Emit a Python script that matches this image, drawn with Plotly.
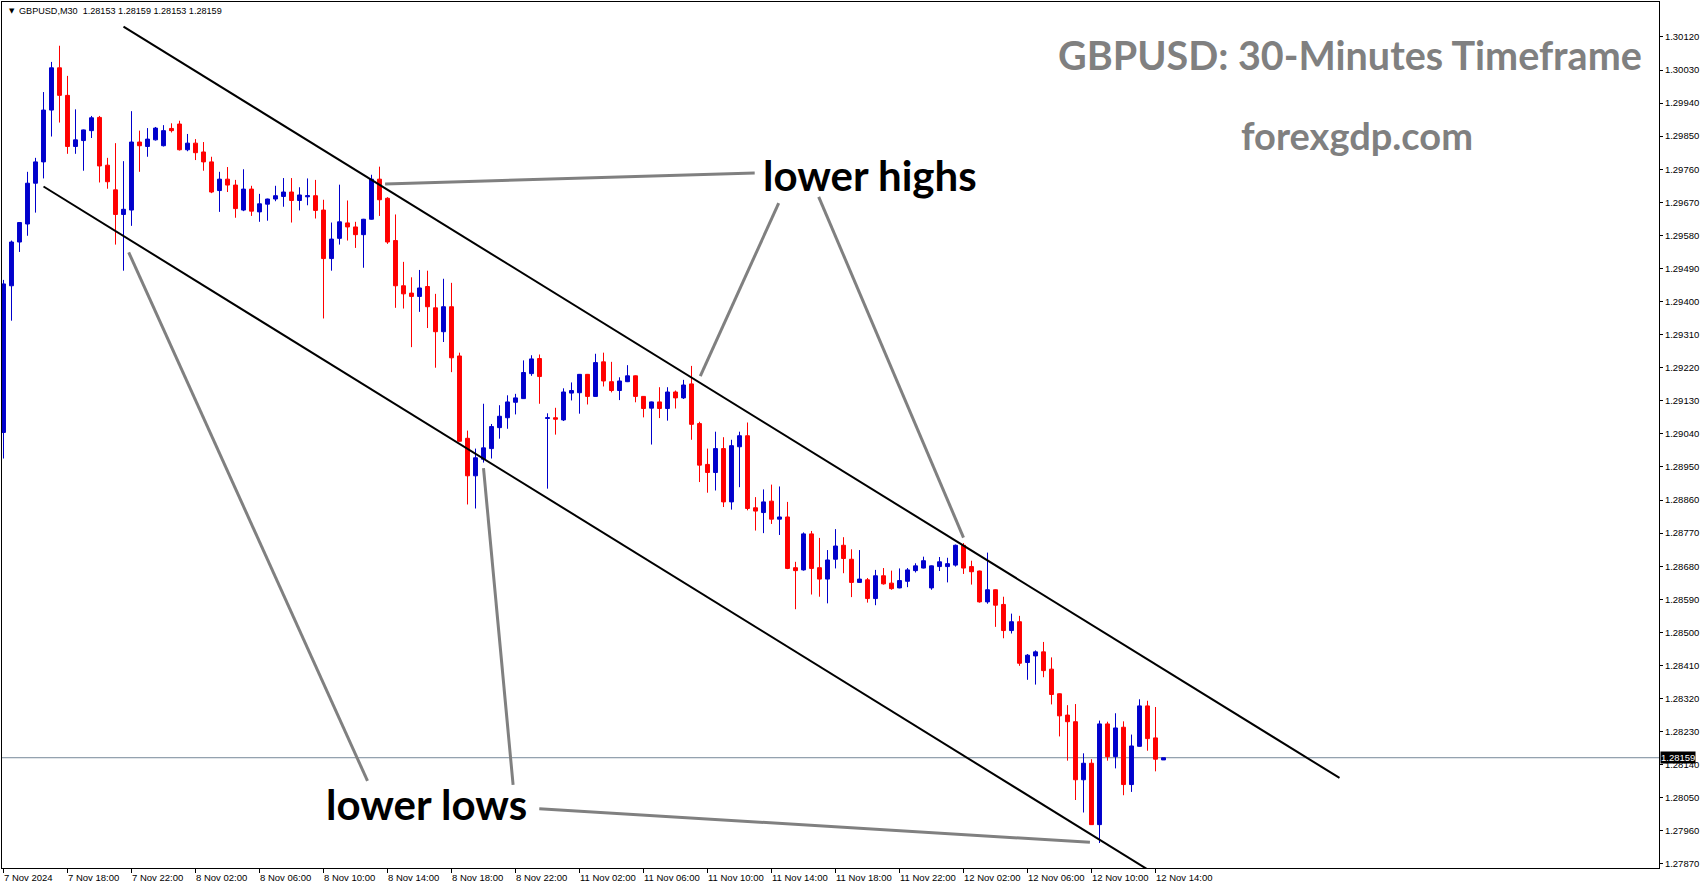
import pandas as pd
import plotly.graph_objects as go

# ---------------- data (GBPUSD M30, 7 Nov 2024 14:00 -> 12 Nov 2024 14:30) ----------------
opens = [1.29044, 1.29443, 1.29562, 1.29611, 1.29722, 1.29780, 1.29921, 1.30036, 1.29961, 1.29822,
         1.29838, 1.29865, 1.29901, 1.29771, 1.29704, 1.29637, 1.29649, 1.29834, 1.29822, 1.29840,
         1.29824, 1.29871, 1.29883, 1.29813, 1.29831, 1.29807, 1.29780, 1.29702, 1.29733, 1.29717,
         1.29649, 1.29706, 1.29644, 1.29665, 1.29679, 1.29686, 1.29698, 1.29675, 1.29685, 1.29688,
         1.29649, 1.29517, 1.29572, 1.29614, 1.29603, 1.29582, 1.29624, 1.29733, 1.29681, 1.29566,
         1.29443, 1.29423, 1.29414, 1.29441, 1.29383, 1.29318, 1.29386, 1.29252, 1.29028, 1.28926,
         1.28971, 1.29000, 1.29057, 1.29084, 1.29126, 1.29136, 1.29204, 1.29245, 1.29082, 1.29084,
         1.29078, 1.29151, 1.29152, 1.29202, 1.29142, 1.29236, 1.29182, 1.29158, 1.29182, 1.29198,
         1.29142, 1.29110, 1.29127, 1.29109, 1.29154, 1.29138, 1.29176, 1.29068, 1.28957, 1.28935,
         1.29000, 1.28855, 1.29005, 1.29035, 1.28839, 1.28826, 1.28857, 1.28808, 1.28814, 1.28676,
         1.28670, 1.28768, 1.28676, 1.28645, 1.28699, 1.28737, 1.28699, 1.28636, 1.28643, 1.28592,
         1.28654, 1.28634, 1.28621, 1.28639, 1.28668, 1.28675, 1.28621, 1.28679, 1.28679, 1.28683,
         1.28737, 1.28679, 1.28667, 1.28583, 1.28616, 1.28576, 1.28505, 1.28529, 1.28418, 1.28436,
         1.28447, 1.28400, 1.28333, 1.28275, 1.28257, 1.28099, 1.28144, 1.27977, 1.28251, 1.28162,
         1.28242, 1.28086, 1.28190, 1.28300, 1.28213, 1.28153]
highs = [1.29459, 1.29566, 1.29616, 1.29753, 1.29791, 1.29970, 1.30052, 1.30096, 1.30014, 1.29923,
         1.29868, 1.29905, 1.29905, 1.29791, 1.29831, 1.29782, 1.29918, 1.29865, 1.29872, 1.29875,
         1.29880, 1.29885, 1.29892, 1.29856, 1.29842, 1.29834, 1.29794, 1.29753, 1.29766, 1.29731,
         1.29760, 1.29715, 1.29693, 1.29680, 1.29715, 1.29736, 1.29736, 1.29711, 1.29735, 1.29731,
         1.29677, 1.29615, 1.29718, 1.29675, 1.29617, 1.29625, 1.29745, 1.29767, 1.29684, 1.29637,
         1.29508, 1.29466, 1.29486, 1.29484, 1.29421, 1.29462, 1.29451, 1.29261, 1.29049, 1.29000,
         1.29122, 1.29067, 1.29118, 1.29145, 1.29149, 1.29240, 1.29254, 1.29256, 1.29096, 1.29111,
         1.29164, 1.29180, 1.29203, 1.29203, 1.29258, 1.29261, 1.29236, 1.29194, 1.29227, 1.29199,
         1.29143, 1.29128, 1.29167, 1.29167, 1.29158, 1.29187, 1.29225, 1.29073, 1.29000, 1.29046,
         1.29031, 1.29024, 1.29046, 1.29071, 1.28868, 1.28889, 1.28902, 1.28897, 1.28855, 1.28692,
         1.28772, 1.28776, 1.28757, 1.28724, 1.28781, 1.28759, 1.28726, 1.28724, 1.28648, 1.28670,
         1.28675, 1.28668, 1.28674, 1.28675, 1.28688, 1.28706, 1.28682, 1.28705, 1.28703, 1.28739,
         1.28743, 1.28695, 1.28668, 1.28717, 1.28617, 1.28597, 1.28551, 1.28545, 1.28441, 1.28451,
         1.28474, 1.28432, 1.28334, 1.28302, 1.28305, 1.28171, 1.28155, 1.28260, 1.28257, 1.28280,
         1.28258, 1.28222, 1.28318, 1.28314, 1.28297, 1.28159]
lows = [1.28973, 1.29348, 1.29535, 1.29579, 1.29642, 1.29735, 1.29849, 1.29887, 1.29802, 1.29802,
        1.29756, 1.29845, 1.29724, 1.29707, 1.29555, 1.29484, 1.29606, 1.29753, 1.29794, 1.29838,
        1.29822, 1.29860, 1.29811, 1.29809, 1.29785, 1.29756, 1.29695, 1.29644, 1.29698, 1.29628,
        1.29646, 1.29633, 1.29617, 1.29620, 1.29673, 1.29658, 1.29615, 1.29648, 1.29662, 1.29626,
        1.29354, 1.29484, 1.29555, 1.29566, 1.29546, 1.29492, 1.29623, 1.29633, 1.29557, 1.29383,
        1.29381, 1.29276, 1.29372, 1.29328, 1.29220, 1.29290, 1.29208, 1.29019, 1.28848, 1.28837,
        1.28962, 1.28973, 1.29027, 1.29054, 1.29093, 1.29135, 1.29198, 1.29122, 1.28891, 1.29038,
        1.29075, 1.29131, 1.29095, 1.29120, 1.29141, 1.29169, 1.29153, 1.29132, 1.29181, 1.29126,
        1.29085, 1.29011, 1.29083, 1.29076, 1.29109, 1.29135, 1.29024, 1.28909, 1.28880, 1.28886,
        1.28841, 1.28834, 1.28895, 1.28832, 1.28777, 1.28770, 1.28795, 1.28765, 1.28672, 1.28563,
        1.28668, 1.28603, 1.28597, 1.28579, 1.28674, 1.28661, 1.28596, 1.28635, 1.28581, 1.28574,
        1.28630, 1.28616, 1.28620, 1.28623, 1.28663, 1.28674, 1.28616, 1.28667, 1.28636, 1.28679,
        1.28659, 1.28630, 1.28581, 1.28578, 1.28515, 1.28484, 1.28497, 1.28409, 1.28371, 1.28358,
        1.28378, 1.28304, 1.28217, 1.28151, 1.28044, 1.28010, 1.27976, 1.27927, 1.28151, 1.28130,
        1.28057, 1.28066, 1.28189, 1.28178, 1.28122, 1.28153]
closes = [1.29448, 1.29562, 1.29615, 1.29722, 1.29780, 1.29921, 1.30036, 1.29961, 1.29822, 1.29840,
          1.29867, 1.29900, 1.29769, 1.29726, 1.29637, 1.29651, 1.29834, 1.29824, 1.29842, 1.29872,
          1.29865, 1.29865, 1.29813, 1.29831, 1.29805, 1.29780, 1.29698, 1.29733, 1.29717, 1.29653,
          1.29706, 1.29646, 1.29666, 1.29679, 1.29688, 1.29698, 1.29675, 1.29690, 1.29688, 1.29648,
          1.29517, 1.29570, 1.29617, 1.29603, 1.29582, 1.29624, 1.29733, 1.29677, 1.29562, 1.29443,
          1.29421, 1.29414, 1.29437, 1.29386, 1.29318, 1.29386, 1.29247, 1.29020, 1.28926, 1.28975,
          1.29002, 1.29060, 1.29088, 1.29127, 1.29138, 1.29207, 1.29244, 1.29196, 1.29084, 1.29080,
          1.29154, 1.29158, 1.29202, 1.29142, 1.29234, 1.29184, 1.29158, 1.29184, 1.29198, 1.29142,
          1.29109, 1.29127, 1.29109, 1.29154, 1.29138, 1.29173, 1.29066, 1.28955, 1.28935, 1.29000,
          1.28855, 1.29008, 1.29035, 1.28837, 1.28830, 1.28855, 1.28808, 1.28814, 1.28674, 1.28668,
          1.28768, 1.28674, 1.28645, 1.28697, 1.28735, 1.28701, 1.28636, 1.28645, 1.28592, 1.28654,
          1.28632, 1.28619, 1.28641, 1.28670, 1.28681, 1.28695, 1.28681, 1.28692, 1.28687, 1.28737,
          1.28675, 1.28665, 1.28583, 1.28616, 1.28574, 1.28505, 1.28529, 1.28416, 1.28438, 1.28447,
          1.28396, 1.28331, 1.28273, 1.28257, 1.28099, 1.28144, 1.27977, 1.28251, 1.28162, 1.28240,
          1.28086, 1.28191, 1.28300, 1.28211, 1.28155, 1.28159]

# bar times (weekend gap between Fri 8 Nov 23:30 and Mon 11 Nov 00:00)
bar_times = list(pd.date_range("2024-11-07 14:00", "2024-11-08 23:30", freq="30min")) + \
            list(pd.date_range("2024-11-11 00:00", "2024-11-12 14:30", freq="30min"))
bar_labels = [t.strftime("%d %b %H:%M") for t in bar_times]
bar_index = list(range(len(bar_times)))

x_tick_bars = [0, 8, 16, 24, 32, 40, 48, 56, 64, 72, 80, 88, 96, 104, 112, 120, 128, 136, 144]
x_tick_text = ["7 Nov 2024", "7 Nov 18:00", "7 Nov 22:00", "8 Nov 02:00", "8 Nov 06:00",
               "8 Nov 10:00", "8 Nov 14:00", "8 Nov 18:00", "8 Nov 22:00", "11 Nov 02:00",
               "11 Nov 06:00", "11 Nov 10:00", "11 Nov 14:00", "11 Nov 18:00", "11 Nov 22:00",
               "12 Nov 02:00", "12 Nov 06:00", "12 Nov 10:00", "12 Nov 14:00"]
y_tick_vals = [1.27870, 1.27960, 1.28050, 1.28140, 1.28230, 1.28320, 1.28410, 1.28500, 1.28590,
               1.28680, 1.28770, 1.28860, 1.28950, 1.29040, 1.29130, 1.29220, 1.29310, 1.29400,
               1.29490, 1.29580, 1.29670, 1.29760, 1.29850, 1.29940, 1.30030, 1.30120]
last_price = 1.28159

# channel lines (bar index, price)
upper_channel = [(15, 1.30148), (167, 1.28104)]
lower_channel = [(5, 1.29713), (150, 1.27761)]
# pointer lines (bar index, price)
pointers = [
    [(47.7, 1.29720), (93.9, 1.29750)],
    [(96.9, 1.29668), (87.1, 1.29197)],
    [(101.9, 1.29685), (120.0, 1.28758)],
    [(45.5, 1.28096), (15.65, 1.29534)],
    [(63.7, 1.28085), (60.0, 1.28947)],
    [(66.97, 1.28020), (135.8, 1.27929)],
]

BLUE = "#0000CC"
RED = "#FF0000"
W, H = 1705, 888
ML, MR, MT, MB = 2, 46, 2, 20
PW, PH = W - ML - MR, H - MT - MB


def px(x):
    return (x - ML) / PW


def py(y):
    return 1 - (y - MT) / PH


fig = go.Figure()
fig.add_trace(go.Candlestick(
    x=bar_index, open=opens, high=highs, low=lows, close=closes,
    text=bar_labels, hoverinfo="text",
    increasing=dict(line=dict(color=BLUE, width=1), fillcolor=BLUE),
    decreasing=dict(line=dict(color=RED, width=1), fillcolor=RED),
    whiskerwidth=0, showlegend=False,
))

shapes = []
shapes.append(dict(type="line", xref="paper", yref="y", x0=0, x1=1, y0=last_price, y1=last_price,
                   line=dict(color="#778899", width=1), layer="below"))
for (a, b) in [upper_channel, lower_channel]:
    shapes.append(dict(type="line", xref="x", yref="y", x0=a[0], y0=a[1], x1=b[0], y1=b[1],
                       line=dict(color="black", width=2)))
for (a, b) in pointers:
    shapes.append(dict(type="line", xref="x", yref="y", x0=a[0], y0=a[1], x1=b[0], y1=b[1],
                       line=dict(color="#808080", width=3)))

annotations = []
TICKFONT = dict(family="Liberation Sans, Arial", size=9.5, color="black")
for b, t in zip(x_tick_bars, x_tick_text):
    annotations.append(dict(x=b, y=0, xref="x", yref="paper", text=t, showarrow=False,
                            xanchor="left", yanchor="top", xshift=-2, yshift=-2, font=TICKFONT))
# header
annotations.append(dict(x=px(6.5), y=py(10.5), xref="paper", yref="paper", text="▼", showarrow=False,
                        xanchor="left", yanchor="middle", font=dict(family="DejaVu Sans", size=7, color="black")))
annotations.append(dict(x=px(17), y=py(10.5), xref="paper", yref="paper",
                        text="GBPUSD,M30  1.28153 1.28159 1.28153 1.28159", showarrow=False,
                        xanchor="left", yanchor="middle",
                        font=dict(family="Liberation Sans, Arial", size=9.1, color="black")))
# titles
annotations.append(dict(x=px(1350), y=py(54.5), xref="paper", yref="paper",
                        text="GBPUSD: 30-Minutes Timeframe", showarrow=False,
                        xanchor="center", yanchor="middle",
                        font=dict(family="Lato", size=39.5, color="#808080", weight="bold")))
annotations.append(dict(x=px(1357), y=py(135), xref="paper", yref="paper",
                        text="forexgdp.com", showarrow=False, xanchor="center", yanchor="middle",
                        font=dict(family="Lato", size=38, color="#808080", weight="bold")))
annotations.append(dict(x=px(870), y=py(174.5), xref="paper", yref="paper",
                        text="lower highs", showarrow=False, xanchor="center", yanchor="middle",
                        font=dict(family="Lato", size=42, color="black", weight="bold")))
annotations.append(dict(x=px(427), y=py(804), xref="paper", yref="paper",
                        text="lower lows", showarrow=False, xanchor="center", yanchor="middle",
                        font=dict(family="Lato", size=42, color="black", weight="bold")))
# last price box
annotations.append(dict(x=1, y=last_price, xref="paper", yref="y", text=f"{last_price:.5f}",
                        showarrow=False, xanchor="left", yanchor="middle", xshift=1,
                        bgcolor="black", borderpad=0,
                        font=dict(family="Liberation Sans, Arial", size=9.5, color="white")))

fig.update_layout(
    width=W, height=H,
    margin=dict(l=ML, r=MR, t=MT, b=MB),
    paper_bgcolor="white", plot_bgcolor="white",
    showlegend=False, hovermode="closest",
    shapes=shapes, annotations=annotations,
    xaxis=dict(range=[(ML - 3.5) / 8, (W - MR - 3.5) / 8], rangeslider=dict(visible=False),
               showgrid=False, zeroline=False, showline=True, linecolor="black", linewidth=1,
               mirror=True, ticks="outside", ticklen=4, tickcolor="black", tickwidth=1,
               tickvals=x_tick_bars, showticklabels=False),
    yaxis=dict(range=[1.27859, 1.30215], side="right", showgrid=False, zeroline=False,
               showline=True, linecolor="black", linewidth=1, mirror=True,
               ticks="outside", ticklen=3, tickcolor="black", tickwidth=1,
               tickvals=y_tick_vals, ticktext=[f"{v:.5f}" for v in y_tick_vals],
               tickfont=TICKFONT),
    boxgap=0.3, boxgroupgap=0.3,
)

fig.write_html("out.html")
